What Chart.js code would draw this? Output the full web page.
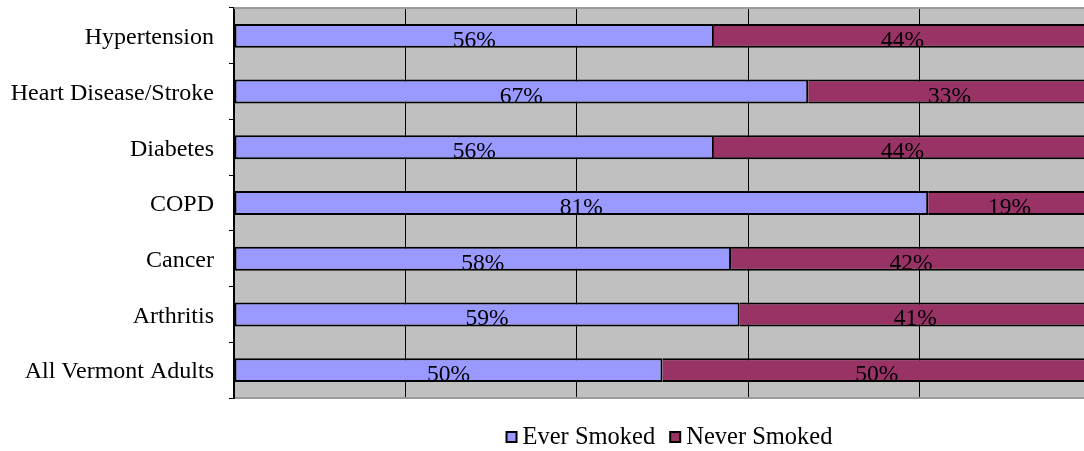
<!DOCTYPE html>
<html>
<head>
<meta charset="utf-8">
<title>Smoking status by chronic condition</title>
<script src="https://cdn.jsdelivr.net/npm/chart.js@4/dist/chart.umd.min.js"></script>
<style>
  html, body { margin: 0; padding: 0; background: #fff; overflow: hidden; width: 1084px; height: 451px; }
  canvas { display: block; }
</style>
</head>
<body>
<canvas id="c" width="1100" height="451"></canvas>
<script>
// Share of adults with each condition who ever / never smoked (percent)
const categories = ['Hypertension', 'Heart Disease/Stroke', 'Diabetes', 'COPD', 'Cancer', 'Arthritis', 'All Vermont Adults'];
const everSmoked = [56, 67, 56, 81, 58, 59, 50];
const neverSmoked = [44, 33, 44, 19, 42, 41, 50];
const seriesNames = ['Ever Smoked', 'Never Smoked'];
const xTickStep = 20;
const xMax = 100;

const SERIF = '"Liberation Serif", "Times New Roman", serif';
const BLUE = '#9999FF';
const MAROON = '#993366';

// Grey plot background behind gridlines and bars
const plotBackground = {
  id: 'plotBackground',
  beforeDraw(chart) {
    const { ctx, chartArea: a } = chart;
    ctx.save();
    ctx.fillStyle = '#C0C0C0';
    ctx.fillRect(a.left, a.top, a.right - a.left, a.bottom - a.top);
    ctx.restore();
  },
  afterDraw(chart) {
    const { ctx, chartArea: a } = chart;
    ctx.save();
    ctx.strokeStyle = '#9A9A9A';
    ctx.lineWidth = 2;
    ctx.beginPath();
    ctx.moveTo(a.left, a.top);
    ctx.lineTo(a.right, a.top);
    ctx.stroke();
    ctx.restore();
  }
};

// Percentage printed in the middle of each bar segment
const segmentLabels = {
  id: 'segmentLabels',
  afterDatasetsDraw(chart) {
    const { ctx } = chart;
    ctx.save();
    ctx.font = '23.5px ' + SERIF;
    ctx.fillStyle = '#000';
    ctx.textAlign = 'center';
    ctx.textBaseline = 'alphabetic';
    chart.data.datasets.forEach((ds, di) => {
      chart.getDatasetMeta(di).data.forEach((bar, i) => {
        const p = bar.getProps(['x', 'y', 'base'], true);
        ctx.fillText(ds.data[i] + '%', (p.x + p.base) / 2, p.y + 11);
      });
    });
    ctx.restore();
  }
};

// Legend row beneath the plot: small outlined swatch followed by the series name
const bottomLegend = {
  id: 'bottomLegend',
  afterDraw(chart) {
    const { ctx, chartArea: a } = chart;
    const box = 10, gap = 6, itemGap = 15;
    ctx.save();
    ctx.font = '24.5px ' + SERIF;
    const items = chart.data.datasets.map(ds => ({
      label: ds.label, color: ds.backgroundColor, w: ctx.measureText(ds.label).width
    }));
    const total = items.reduce((s, it) => s + box + gap + it.w, 0) + itemGap * (items.length - 1);
    const cy = 437;
    let x = (a.left + a.right) / 2 + 7 - total / 2;
    items.forEach(it => {
      ctx.fillStyle = it.color;
      ctx.fillRect(x, cy - box / 2, box, box);
      ctx.strokeStyle = '#000';
      ctx.lineWidth = 2;
      ctx.strokeRect(x, cy - box / 2, box, box);
      ctx.fillStyle = '#000';
      ctx.textAlign = 'left';
      ctx.textBaseline = 'middle';
      ctx.fillText(it.label, x + box + gap, cy + 1);
      x += box + gap + it.w + itemGap;
    });
    ctx.restore();
  }
};

new Chart(document.getElementById('c'), {
  type: 'bar',
  data: {
    labels: categories,
    datasets: [
      {
        label: seriesNames[0],
        data: everSmoked,
        backgroundColor: BLUE,
        borderColor: '#000',
        borderWidth: { top: 2, bottom: 2, left: 2, right: 2 },
        borderSkipped: false
      },
      {
        label: seriesNames[1],
        data: neverSmoked,
        backgroundColor: MAROON,
        borderColor: '#000',
        borderWidth: { top: 2, bottom: 2, left: 0, right: 2 },
        borderSkipped: false
      }
    ]
  },
  options: {
    indexAxis: 'y',
    responsive: false,
    animation: false,
    devicePixelRatio: 1,
    barPercentage: 0.43,
    categoryPercentage: 1,
    layout: { padding: { top: 8, bottom: 53, left: 0, right: 9 } },
    plugins: {
      legend: { display: false },
      tooltip: { enabled: false }
    },
    scales: {
      x: {
        stacked: true,
        min: 0,
        max: xMax,
        ticks: { display: false, stepSize: xTickStep },
        grid: { color: '#000', lineWidth: 1, drawTicks: false },
        border: { color: '#9A9A9A', width: 2 },
        afterFit(scale) { scale.height = 0; }
      },
      y: {
        stacked: true,
        grid: { offset: true, drawOnChartArea: false, color: '#000', lineWidth: 1, tickLength: 5 },
        border: { color: '#000', width: 2 },
        ticks: { color: '#000', font: { family: SERIF, size: 24 }, padding: 15, labelOffset: 2 },
        afterFit(scale) {
          scale.width = 234;
          scale.paddingTop = 0;
          scale.paddingBottom = 0;
        }
      }
    }
  },
  plugins: [plotBackground, segmentLabels, bottomLegend]
});
</script>
</body>
</html>
